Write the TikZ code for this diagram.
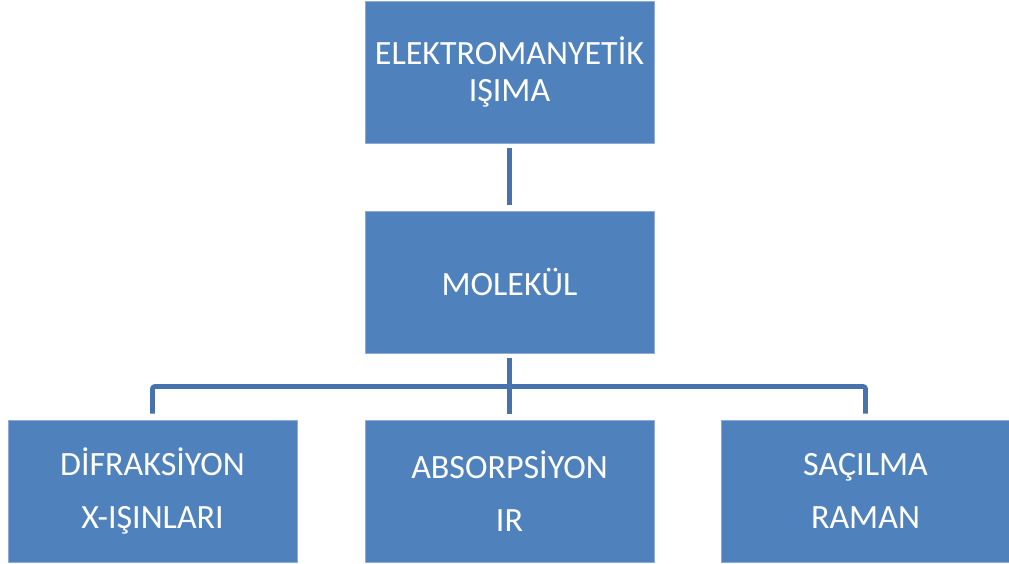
\documentclass[tikz,border=0pt]{standalone}
\usepackage{fontspec}
\setmainfont{Carlito}
\definecolor{boxblue}{HTML}{4F81BD}
\definecolor{boxedge}{HTML}{8EAADB}
\definecolor{linkblue}{HTML}{4672AD}
\begin{document}
\begin{tikzpicture}[x=1pt,y=-1pt,line cap=butt,line join=round,
  box/.style={rectangle,fill=boxblue,draw=boxedge,line width=0.8pt,minimum width=289pt,minimum height=142pt,
    text=white,align=center,font=\fontsize{34}{37.5}\selectfont},
  link/.style={draw=linkblue,line width=4.6pt,rounded corners=2pt}]
\useasboundingbox (0,0) rectangle (1009,564);
\node[box] (ema) at (509.5,72) {ELEKTROMANYETİK\\IŞIMA};
\node[box] (mol) at (509.5,282) {MOLEKÜL};
\node[box] (dif) at (152.5,491) {DİFRAKSİYON\\[15pt]X-IŞINLARI};
\node[box] (abs) at (509.5,491) {ABSORPSİYON\\[15pt]IR};
\node[box] (sac) at (865.5,491) {SAÇILMA\\[15pt]RAMAN};
\coordinate (bus) at (509.5,386.5);
\draw[link] ([yshift=-5pt]ema.south) -- ([yshift=6pt]mol.north);
\draw[link] ([yshift=-5pt]mol.south) -- ([yshift=6pt]abs.north);
\draw[link] ([yshift=6pt]dif.north) |- (bus) -| ([yshift=6pt]sac.north);
\end{tikzpicture}
\end{document}
